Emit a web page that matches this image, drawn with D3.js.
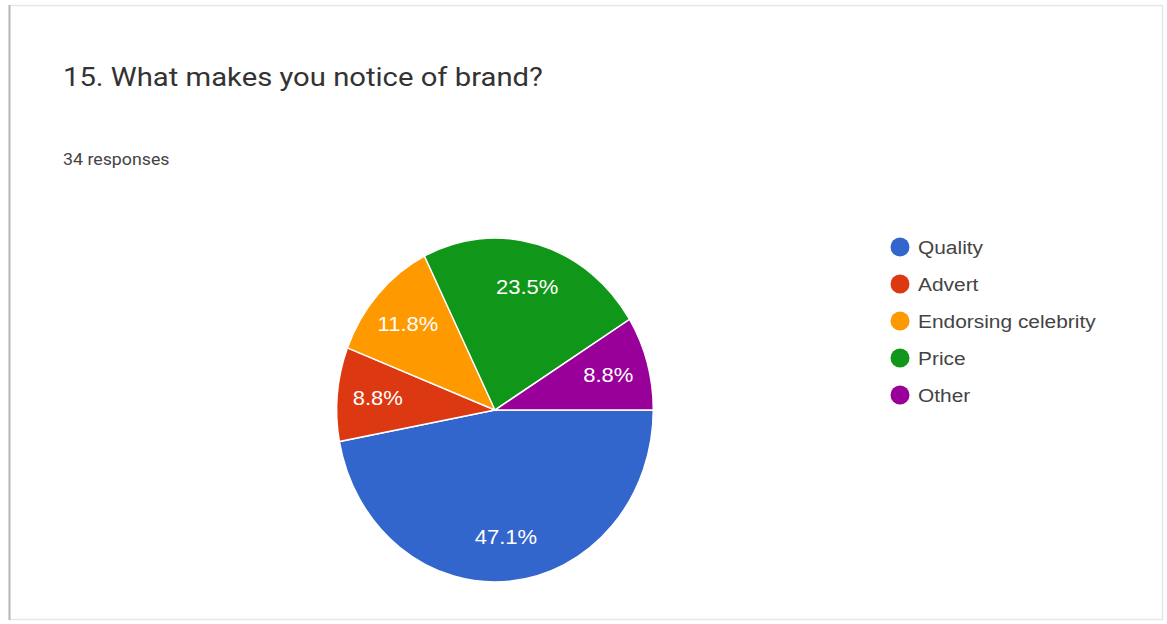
<!DOCTYPE html>
<html>
<head>
<meta charset="utf-8">
<script src="https://cdn.jsdelivr.net/npm/d3@7"></script>
<style>
  html, body { margin: 0; padding: 0; background: #fff; }
  svg { display: block; }
</style>
</head>
<body>
<svg id="chart" width="1167" height="624"></svg>
<script>
// 数据
const categories = ['Quality', 'Advert', 'Endorsing celebrity', 'Price', 'Other']
const counts = [16, 3, 4, 8, 3]
const colors = ['#3366cc', '#dc3912', '#ff9900', '#109618', '#990099']
const title = '15. What makes you notice of brand?'
const subtitle = '34 responses'

const width = 1167, height = 624
const svg = d3.select('#chart')
const textStretch = 1.1   // 原图文字横向被拉宽

// 卡片边框
svg.append('rect')
    .attr('x', 9.5).attr('y', 5.5)
    .attr('width', 1153).attr('height', 614)
    .attr('fill', '#fff')
    .attr('stroke', '#e6e6e6')
    .attr('stroke-width', 1.5)
svg.append('line')
    .attr('x1', 9.5).attr('x2', 9.5)
    .attr('y1', 5).attr('y2', 620)
    .attr('stroke', '#b8b8b8')
    .attr('stroke-width', 2)

svg.append('text')
    .attr('transform', `translate(63,86) scale(1.125,1)`)
    .attr('font-family', 'Roboto, sans-serif')
    .attr('font-size', '26px')
    .attr('fill', '#333')
    .text(title)

svg.append('text')
    .attr('transform', `translate(63,165) scale(${textStretch * 0.98},1)`)
    .attr('font-family', 'Roboto, sans-serif')
    .attr('font-size', '16.5px')
    .attr('fill', '#444')
    .text(subtitle)

// 饼图
const total = d3.sum(counts)
const data = categories.map((c, i) => ({ label: c, value: counts[i], color: colors[i] }))
const radius = 172
const pie = d3.pie().value(d => d.value).sort(null)
    .startAngle(Math.PI / 2).endAngle(Math.PI / 2 + 2 * Math.PI)
const arc = d3.arc().innerRadius(0).outerRadius(radius)
const labelArc = d3.arc().innerRadius(128).outerRadius(128)
const arcs = pie(data)

const cx = 495, cy = 410, sx = 0.92
const g = svg.append('g').attr('transform', `translate(${cx},${cy}) scale(${sx},1)`)

g.selectAll('path')
    .data(arcs)
    .join('path')
    .attr('d', arc)
    .attr('fill', d => d.data.color)
    .attr('stroke', '#fff')
    .attr('stroke-width', 1.5)

svg.append('g').selectAll('text')
    .data(arcs)
    .join('text')
    .attr('transform', d => {
        const [x, y] = labelArc.centroid(d)
        return `translate(${cx + x * sx},${cy + y}) scale(${textStretch},1)`
    })
    .attr('dy', '0.35em')
    .attr('text-anchor', 'middle')
    .attr('font-family', 'Arial, "Liberation Sans", sans-serif')
    .attr('font-size', '20px')
    .attr('fill', '#fff')
    .text(d => (d.data.value / total * 100).toFixed(1) + '%')

// 图例
const legend = svg.append('g').attr('transform', 'translate(900,247)')
const item = legend.selectAll('g')
    .data(data)
    .join('g')
    .attr('transform', (d, i) => `translate(0,${i * 37})`)
item.append('circle')
    .attr('r', 9.5)
    .attr('fill', d => d.color)
item.append('text')
    .attr('transform', `translate(18,0) scale(${textStretch},1)`)
    .attr('dy', '0.35em')
    .attr('font-family', 'Arial, "Liberation Sans", sans-serif')
    .attr('font-size', '19px')
    .attr('fill', '#444')
    .text(d => d.label)
</script>
</body>
</html>
